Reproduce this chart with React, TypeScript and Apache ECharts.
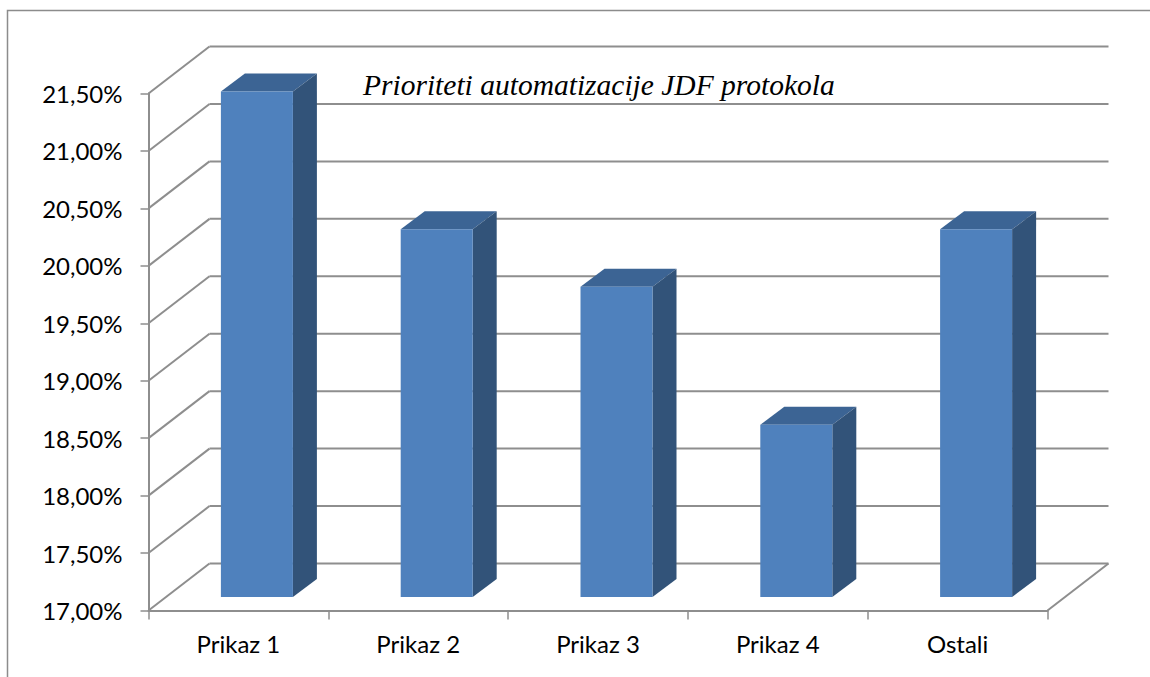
import React, { useEffect, useRef } from "react";
import * as echarts from "echarts";

const titleText = "Prioriteti automatizacije JDF protokola";
const categories = ["Prikaz 1", "Prikaz 2", "Prikaz 3", "Prikaz 4", "Ostali"];
const values = [21.4, 20.2, 19.7, 18.5, 20.2];
const wallTicks = [17, 17.5, 18, 18.5, 19, 19.5, 20, 20.5, 21, 21.5];

const LINE = "#8e8e8e";
const WALL_DX = 61;
const WALL_DY = -47;
const BAR_DX = 18.5;
const BAR_DY = -13.5;
const BAR_HALF = 36;
const DEPTH_X = 24;
const DEPTH_Y = -18;

export default function App() {
  const ref = useRef<HTMLDivElement>(null);
  useEffect(() => {
    document.body.style.margin = "0";
    const chart = echarts.init(ref.current!, null, { renderer: "svg" });
    chart.setOption({
      animation: false,
      backgroundColor: "#ffffff",
      title: {
        text: titleText,
        left: 358,
        top: 65,
        textStyle: {
          fontFamily: "Liberation Serif",
          fontStyle: "italic",
          fontWeight: "normal",
          fontSize: 29.5,
          color: "#000000",
        },
      },
      grid: { left: 148.5, top: 93.5, width: 899, height: 517 },
      xAxis: {
        type: "category",
        data: categories,
        boundaryGap: true,
        axisLine: { lineStyle: { color: LINE, width: 2 } },
        axisTick: { show: true, alignWithLabel: false, interval: 0, length: 9, lineStyle: { color: LINE, width: 1.5 } },
        axisLabel: { fontFamily: "Lato", fontSize: 24, color: "#000000", margin: 21, interval: 0 },
      },
      yAxis: {
        type: "value",
        min: 17,
        max: 21.5,
        interval: 0.5,
        axisLine: { show: true, lineStyle: { color: LINE, width: 2 } },
        axisTick: { show: true, length: 8, lineStyle: { color: LINE, width: 1.5 } },
        splitLine: { show: false },
        axisLabel: {
          fontFamily: "Lato",
          fontSize: 24,
          color: "#000000",
          margin: 26,
          formatter: (v: number) => v.toFixed(2).replace(".", ",") + "%",
        },
      },
      graphic: [
        {
          type: "polyline",
          silent: true,
          shape: { points: [[7.5, 677], [7.5, 10.5], [1150, 10.5]] },
          style: { stroke: "#8c8c8c", lineWidth: 1.5, fill: "none" },
        },
      ],
      series: [
        {
          type: "custom",
          name: "walls",
          silent: true,
          z: 1,
          data: wallTicks.map((v) => [0, v]),
          encode: { x: 0, y: 1 },
          renderItem: (params: any, api: any) => {
            const cs = params.coordSys;
            const v = api.value(1);
            const y = api.coord([0, v])[1];
            const children: any[] = [
              {
                type: "line",
                shape: { x1: cs.x, y1: y, x2: cs.x + WALL_DX, y2: y + WALL_DY },
                style: { stroke: LINE, lineWidth: 2 },
              },
              {
                type: "line",
                shape: { x1: cs.x + WALL_DX, y1: y + WALL_DY, x2: cs.x + cs.width + WALL_DX, y2: y + WALL_DY },
                style: { stroke: LINE, lineWidth: 2 },
              },
            ];
            if (v === 17) {
              children.push({
                type: "line",
                shape: { x1: cs.x + cs.width, y1: y, x2: cs.x + cs.width + WALL_DX, y2: y + WALL_DY },
                style: { stroke: LINE, lineWidth: 2 },
              });
            }
            return { type: "group", children };
          },
        },
        {
          type: "custom",
          name: "bars",
          z: 2,
          data: values.map((v, i) => [i, v]),
          encode: { x: 0, y: 1 },
          renderItem: (_params: any, api: any) => {
            const top = api.coord([api.value(0), api.value(1)]);
            const base = api.coord([api.value(0), 17]);
            const l = top[0] + BAR_DX - BAR_HALF;
            const r = top[0] + BAR_DX + BAR_HALF;
            const t = top[1] + BAR_DY;
            const b = base[1] + BAR_DY;
            return {
              type: "group",
              children: [
                {
                  type: "polygon",
                  shape: { points: [[l, t], [l + DEPTH_X, t + DEPTH_Y], [r + DEPTH_X, t + DEPTH_Y], [r, t]] },
                  style: { fill: "#3c6494" },
                },
                {
                  type: "polygon",
                  shape: { points: [[r, t], [r + DEPTH_X, t + DEPTH_Y], [r + DEPTH_X, b + DEPTH_Y], [r, b]] },
                  style: { fill: "#325379" },
                },
                {
                  type: "rect",
                  shape: { x: l, y: t, width: r - l, height: b - t },
                  style: { fill: "#4f81bd" },
                },
              ],
            };
          },
        },
      ],
    });
    return () => chart.dispose();
  }, []);
  return <div ref={ref} style={{ width: 1150, height: 677 }} />;
}
